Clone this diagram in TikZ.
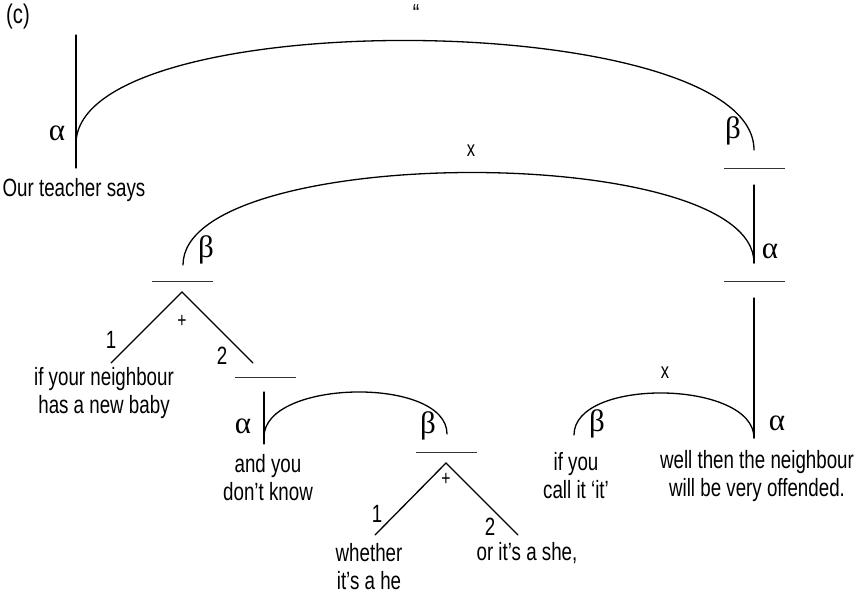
\documentclass[tikz,border=0pt]{standalone}
\usepackage{fontspec}
\setmainfont{Liberation Sans}[FakeStretch=0.75]
\newfontfamily\greekfont{Liberation Serif}
\tikzset{
  lin/.style={line width=1.3pt, line cap=round},
  bar/.style={line width=0.8pt, black!80},
  txt/.style={font=\fontsize{25}{28}\selectfont, align=center, inner sep=0pt},
  grk/.style={font=\greekfont\fontsize{31}{31}\selectfont, inner sep=0pt},
  sml/.style={font=\fontsize{21}{21}\selectfont, inner sep=0pt}
}
\begin{document}
\begin{tikzpicture}[x=1pt, y=-1pt]
		\useasboundingbox (0,0) rectangle (857,598);
		\node[txt, font=\fontsize{27}{28}\selectfont] (tag) at (18,17) {(c)};
		% top: projection
		\coordinate (a0t) at (76,35);
		\coordinate (a0b) at (76,168);
		\coordinate (a0) at (76,144);
		\coordinate (b0) at (754,150);
		\draw[lin] (a0t) -- (a0b);
		\draw[lin] (a0) .. controls +(0,-142) and +(0,-142) .. (b0);
		\node[sml, font=\fontsize{26}{26}\selectfont] (quote) at (416,14) {“};
		\node[grk] (alpha0) at (57,133) {α};
		\node[grk] (beta0) at (733,131) {β};
		\node[txt] (says) at (74,190) {Our teacher says};
		% bars between levels
		\foreach \x/\y in {754/168, 754/281, 182/281, 265/377, 446/452}
			\draw[bar] (\x-30,\y) -- (\x+31,\y);
		% second level: enhancement
		\coordinate (a1t) at (754,185);
		\coordinate (a1) at (754,263);
		\coordinate (b1) at (183,265);
		\draw[lin] (a1t) -- (a1);
		\draw[lin] (b1) .. controls +(0,-122) and +(0,-122) .. (a1);
		\node[sml, font=\fontsize{22}{22}\selectfont] (x1) at (471,151) {x};
		\node[grk] (alpha1) at (770,251) {α};
		\node[grk] (beta1) at (206,250) {β};
		% left paratactic pair
		\coordinate (p1) at (182,292);
		\coordinate (p1l) at (111,363);
		\coordinate (p1r) at (253,363);
		\draw[lin] (p1l) -- (p1) -- (p1r);
		\node[txt] (one1) at (111,340) {1};
		\node[sml] (plus1) at (182,321) {+};
		\node[txt] (two1) at (222,356) {2};
		\node[txt] (neigh) at (104,393) {if your neighbour\\has a new baby};
		% and you don't know
		\coordinate (a2t) at (264,392);
		\coordinate (a2b) at (264,444);
		\coordinate (a2) at (264,437);
		\coordinate (b2) at (447,434);
		\draw[lin] (a2t) -- (a2b);
		\draw[lin] (a2) .. controls +(0,-58) and +(0,-58) .. (b2);
		\node[grk] (alpha2) at (243,426) {α};
		\node[grk] (beta2) at (428,426) {β};
		\node[txt] (know) at (268,478) {and you\\don’t know};
		% whether he or she
		\coordinate (p2) at (446,463);
		\coordinate (p2l) at (375,535);
		\coordinate (p2r) at (518,535);
		\draw[lin] (p2l) -- (p2) -- (p2r);
		\node[txt] (one2) at (377,514) {1};
		\node[sml] (plus2) at (446,479) {+};
		\node[txt] (two2) at (490,527) {2};
		\node[txt] (he) at (369,567) {whether\\it’s a he};
		\node[txt] (she) at (527,553) {or it’s a she,};
		% right: condition
		\coordinate (a3t) at (754,298);
		\coordinate (a3) at (754,438);
		\coordinate (b3) at (574,435);
		\draw[lin] (a3t) -- (a3);
		\draw[lin] (b3) .. controls +(0,-58) and +(0,-58) .. (a3);
		\node[sml, font=\fontsize{22}{22}\selectfont] (x3) at (665,373) {x};
		\node[grk] (beta3) at (597,424) {β};
		\node[grk] (alpha3) at (777,423) {α};
		\node[txt] (call) at (576,476) {if you\\call it ‘it’};
		\node[txt] (offend) at (757,476) {well then the neighbour\\will be very offended.};
	\end{tikzpicture}
\end{document}
